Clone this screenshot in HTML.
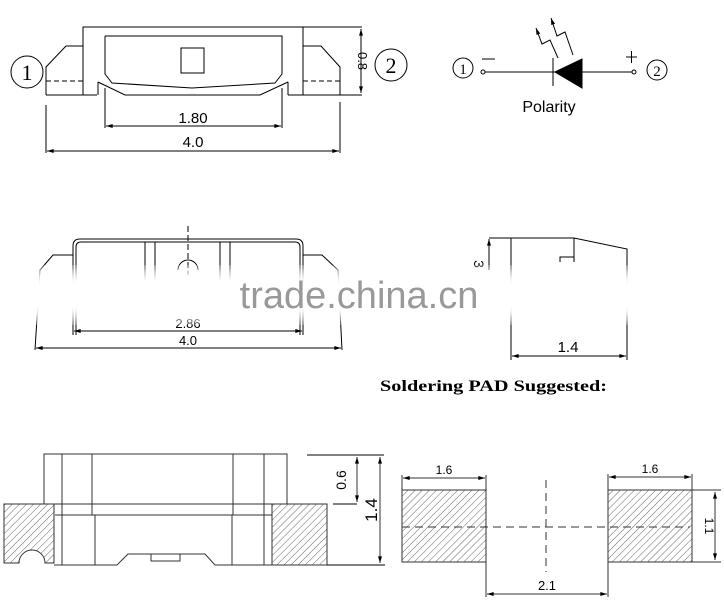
<!DOCTYPE html>
<html><head><meta charset="utf-8"><style>
html,body{margin:0;padding:0;background:#fff;}
svg{display:block;}
</style></head><body>
<svg width="724" height="615" viewBox="0 0 724 615" xmlns="http://www.w3.org/2000/svg" font-family="Liberation Sans, sans-serif">
<defs>
<pattern id="h" width="5" height="5" patternUnits="userSpaceOnUse" patternTransform="rotate(45)">
<rect width="5" height="5" fill="#fff"/><line x1="0" y1="0" x2="0" y2="5" stroke="#666" stroke-width="1"/>
</pattern>
<marker id="a" viewBox="0 0 10 6" refX="10" refY="3" markerWidth="8" markerHeight="4" orient="auto-start-reverse" markerUnits="userSpaceOnUse"><path d="M0,0L10,3L0,6z" fill="#000"/></marker>
<filter id="blur"><feGaussianBlur stdDeviation="7"/></filter>
</defs>
<g fill="none" stroke="#000" stroke-width="1">
<circle cx="27" cy="72" r="16"/>
<text x="27" y="80" font-size="22" text-anchor="middle" fill="#000" stroke="none" style="font-family:'Liberation Serif',serif">1</text>
<circle cx="391" cy="65" r="16"/>
<text x="391" y="73" font-size="22" text-anchor="middle" fill="#000" stroke="none" style="font-family:'Liberation Serif',serif">2</text>
<rect x="83" y="27" width="220" height="68"/>
<polyline points="46,95 46,67 66,46 83,46"/>
<line x1="46" y1="95" x2="83" y2="95"/>
<line x1="46" y1="81" x2="83" y2="81" stroke-dasharray="5,3"/>
<polyline points="303,46 321,46 340,67 340,95 303,95"/>
<line x1="303" y1="81" x2="340" y2="81" stroke-dasharray="5,3"/>
<polyline points="105,36 282,36 282,74 275,83 192,88 112,83 105,74 105,36"/>
<rect x="181" y="48" width="23" height="25"/>
<line x1="97" y1="95" x2="288" y2="95" stroke="#fff" stroke-width="2"/>
<polyline points="98,82 125,95 260,95 288,82"/>
<line x1="98" y1="82" x2="98" y2="95"/><line x1="288" y1="82" x2="288" y2="95"/>
<line x1="303" y1="27" x2="362" y2="27"/><line x1="340" y1="95" x2="362" y2="95"/>
<line x1="361" y1="29" x2="361" y2="93" marker-start="url(#a)" marker-end="url(#a)"/>
<text transform="translate(358,61) rotate(90)" font-size="13" text-anchor="middle" fill="#000" stroke="none">0.8</text>
<line x1="105" y1="88" x2="105" y2="128"/><line x1="282" y1="88" x2="282" y2="128"/>
<line x1="106" y1="126" x2="281" y2="126" marker-start="url(#a)" marker-end="url(#a)"/>
<text x="193" y="123" font-size="15" text-anchor="middle" fill="#000" stroke="none">1.80</text>
<line x1="46" y1="105" x2="46" y2="153"/><line x1="340" y1="102" x2="340" y2="153"/>
<line x1="47" y1="151" x2="339" y2="151" marker-start="url(#a)" marker-end="url(#a)"/>
<text x="193" y="147" font-size="15" text-anchor="middle" fill="#000" stroke="none">4.0</text>
<circle cx="463" cy="68" r="10"/>
<text x="463" y="74" font-size="15" text-anchor="middle" fill="#000" stroke="none" style="font-family:'Liberation Serif',serif">1</text>
<circle cx="483" cy="72" r="2"/><circle cx="634" cy="72" r="2"/>
<line x1="485" y1="72" x2="632" y2="72"/>
<line x1="482" y1="59" x2="495" y2="59"/>
<line x1="626" y1="57" x2="637" y2="57"/><line x1="631.5" y1="51" x2="631.5" y2="63"/>
<line x1="553" y1="58" x2="553" y2="86"/>
<polygon points="555,72 582,59 582,88" fill="#000"/>
<circle cx="657" cy="70" r="10"/>
<text x="657" y="76" font-size="15" text-anchor="middle" fill="#000" stroke="none" style="font-family:'Liberation Serif',serif">2</text>
<polyline points="558,58 550,40 542,44 536,28" marker-end="url(#a)"/>
<polyline points="573,55 565,32 557,36 551,18" marker-end="url(#a)"/>
<text x="549" y="112" font-size="16" text-anchor="middle" fill="#000" stroke="none">Polarity</text>
<path d="M73,335 L73,246 Q73,239 80,239 L296,239 Q303,239 303,246 L303,335"/>
<path d="M76,335 L76,247 Q76,242 81,242 L295,242 Q300,242 300,247 L300,335"/>
<line x1="145" y1="242" x2="145" y2="280"/><line x1="155" y1="242" x2="155" y2="280"/>
<line x1="220" y1="242" x2="220" y2="280"/><line x1="230" y1="242" x2="230" y2="280"/>
<line x1="188" y1="226" x2="188" y2="275" stroke-dasharray="6,3"/>
<path d="M178,270 A10,10 0 0 1 198,270"/>
<polyline points="73,255 53,255 40,270 35,350"/>
<polyline points="303,255 322,255 338,270 342,350"/>
<line x1="74" y1="331" x2="302" y2="331" marker-start="url(#a)" marker-end="url(#a)"/>
<text x="188" y="328" font-size="13" text-anchor="middle" fill="#000" stroke="none">2.86</text>
<line x1="36" y1="348" x2="341" y2="348" marker-start="url(#a)" marker-end="url(#a)"/>
<text x="188" y="345" font-size="13" text-anchor="middle" fill="#000" stroke="none">4.0</text>
<polyline points="489,238 574,238 627,249 627,360"/>
<line x1="511" y1="238" x2="511" y2="360"/>
<polyline points="560,262 560,257 574,257"/><line x1="574" y1="238" x2="574" y2="262"/>
<line x1="489" y1="270" x2="489" y2="239" marker-end="url(#a)"/>
<text transform="translate(474,264) rotate(90)" font-size="14" text-anchor="middle" fill="#000" stroke="none">3</text>
<line x1="512" y1="356" x2="626" y2="356" marker-start="url(#a)" marker-end="url(#a)"/>
<text x="568" y="352" font-size="15" text-anchor="middle" fill="#000" stroke="none">1.4</text>
</g>
<rect x="20" y="270" width="630" height="50" fill="#fff" filter="url(#blur)"/>
<text x="359" y="308" font-size="38" text-anchor="middle" fill="#999">trade.china.cn</text>
<text x="380" y="391" font-size="16" font-weight="bold" fill="#000" textLength="227" lengthAdjust="spacingAndGlyphs" style="font-family:'Liberation Serif',serif">Soldering PAD Suggested:</text>
<g fill="none" stroke="#333" stroke-width="1">
<rect x="44" y="454" width="243" height="50"/>
<line x1="62" y1="454" x2="62" y2="565"/><line x1="92" y1="454" x2="92" y2="515"/>
<line x1="95" y1="515" x2="95" y2="565"/>
<line x1="233" y1="454" x2="233" y2="515"/><line x1="232" y1="515" x2="232" y2="565"/>
<line x1="264" y1="454" x2="264" y2="565"/>
<line x1="55" y1="515" x2="272" y2="515"/>
<polyline points="54,565 117,565 128,554 205,554 215,565 272,565"/>
<rect x="151" y="554" width="29" height="7"/>
<path d="M4,504 L54,504 L54,563 L45,563 A13,13 0 0 0 19,563 L4,563 Z" fill="url(#h)"/>
<rect x="272" y="504" width="55" height="61" fill="url(#h)"/>
<line x1="307" y1="455" x2="384" y2="455" stroke="#000"/>
<line x1="333" y1="504" x2="357" y2="504" stroke="#000"/>
<line x1="327" y1="565" x2="385" y2="565" stroke="#000"/>
<line x1="357" y1="457" x2="357" y2="502" marker-start="url(#a)" marker-end="url(#a)"/>
<line x1="380" y1="457" x2="380" y2="563" marker-start="url(#a)" marker-end="url(#a)"/>
<text transform="translate(346,480) rotate(-90)" font-size="14" text-anchor="middle" fill="#000" stroke="none">0.6</text>
<text transform="translate(377,510) rotate(-90)" font-size="17" text-anchor="middle" fill="#000" stroke="none">1.4</text>
<rect x="402" y="490" width="84" height="72" fill="url(#h)"/>
<rect x="608" y="490" width="84" height="72" fill="url(#h)"/>
<line x1="402" y1="527" x2="690" y2="527" stroke-dasharray="8,5"/>
<line x1="546" y1="480" x2="546" y2="572" stroke-dasharray="8,5"/>
<line x1="402" y1="475" x2="402" y2="490"/><line x1="486" y1="475" x2="486" y2="490"/>
<line x1="403" y1="478" x2="485" y2="478" marker-start="url(#a)" marker-end="url(#a)"/>
<text x="444" y="474" font-size="12" text-anchor="middle" fill="#000" stroke="none">1.6</text>
<line x1="608" y1="474" x2="608" y2="490"/><line x1="692" y1="474" x2="692" y2="490"/>
<line x1="609" y1="477" x2="691" y2="477" marker-start="url(#a)" marker-end="url(#a)"/>
<text x="650" y="473" font-size="12" text-anchor="middle" fill="#000" stroke="none">1.6</text>
<line x1="692" y1="490" x2="721" y2="490"/><line x1="692" y1="562" x2="721" y2="562"/>
<line x1="715" y1="492" x2="715" y2="560" marker-start="url(#a)" marker-end="url(#a)"/>
<text transform="translate(705,526) rotate(90)" font-size="12" text-anchor="middle" fill="#000" stroke="none">1.1</text>
<line x1="486" y1="562" x2="486" y2="597"/><line x1="608" y1="562" x2="608" y2="597"/>
<line x1="487" y1="594" x2="607" y2="594" marker-start="url(#a)" marker-end="url(#a)"/>
<text x="547" y="590" font-size="13" text-anchor="middle" fill="#000" stroke="none">2.1</text>
</g>
</svg>
</body></html>
